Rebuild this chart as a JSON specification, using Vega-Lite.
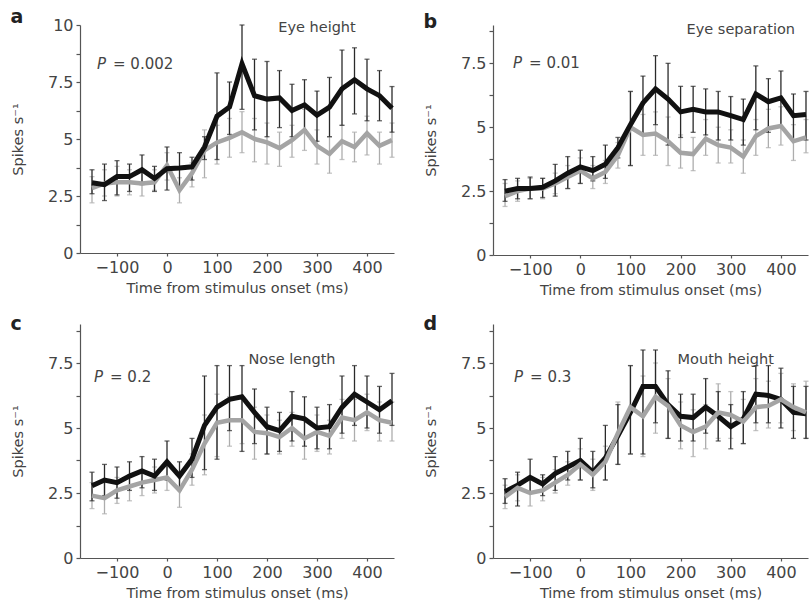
{
"$schema":"https://vega.github.io/schema/vega-lite/v6.json",
"background":"white",
"padding":{"left":10,"top":8,"right":0,"bottom":0},
"config":{"view":{"stroke":null},"font":"DejaVu Sans",
"axis":{"grid":false,"domainColor":"#555","tickColor":"#555","labelColor":"#444","titleColor":"#444","labelFontSize":16,"titleFontSize":14.5,"titleFontWeight":"normal","domainWidth":1.2,"tickWidth":1.2,"labelPadding":3},
"axisX":{"tickSize":3,"titlePadding":6,"values":[-150,-125,-100,-75,-50,-25,0,25,50,75,100,125,150,175,200,225,250,275,300,325,350,375,400,425,450],"labelExpr":"datum.value % 100 === 0 ? datum.label : ''"},
"axisY":{"tickSize":4,"titlePadding":22,"labelExpr":"datum.value % 2.5 === 0 ? format(datum.value, '.2~f') : ''"},
"title":{"anchor":"start","frame":"bounds","fontSize":19,"fontWeight":"bold","color":"#222","offset":0,"dy":14}},
"datasets":{"d":[
{"p":"a","s":"k","t":-150,"m":3.08,"lo":2.6,"hi":3.65},{"p":"a","s":"k","t":-125,"m":3.0,"lo":2.3,"hi":3.9},{"p":"a","s":"k","t":-100,"m":3.35,"lo":2.55,"hi":4.05},{"p":"a","s":"k","t":-75,"m":3.35,"lo":2.7,"hi":3.9},{"p":"a","s":"k","t":-50,"m":3.65,"lo":3.0,"hi":4.3},{"p":"a","s":"k","t":-25,"m":3.27,"lo":2.7,"hi":3.8},{"p":"a","s":"k","t":0,"m":3.7,"lo":2.76,"hi":4.65},{"p":"a","s":"k","t":25,"m":3.73,"lo":2.9,"hi":4.4},{"p":"a","s":"k","t":50,"m":3.78,"lo":3.2,"hi":4.2},{"p":"a","s":"k","t":75,"m":4.65,"lo":4.1,"hi":5.1},{"p":"a","s":"k","t":100,"m":6.0,"lo":4.1,"hi":7.9},{"p":"a","s":"k","t":125,"m":6.4,"lo":5.2,"hi":7.5},{"p":"a","s":"k","t":150,"m":8.3,"lo":6.3,"hi":10.0},{"p":"a","s":"k","t":175,"m":6.9,"lo":5.4,"hi":8.5},{"p":"a","s":"k","t":200,"m":6.75,"lo":5.1,"hi":8.4},{"p":"a","s":"k","t":225,"m":6.8,"lo":5.5,"hi":8.0},{"p":"a","s":"k","t":250,"m":6.25,"lo":5.1,"hi":7.4},{"p":"a","s":"k","t":275,"m":6.5,"lo":5.4,"hi":7.6},{"p":"a","s":"k","t":300,"m":6.05,"lo":4.9,"hi":7.1},{"p":"a","s":"k","t":325,"m":6.4,"lo":5.1,"hi":7.7},{"p":"a","s":"k","t":350,"m":7.2,"lo":5.6,"hi":8.9},{"p":"a","s":"k","t":375,"m":7.6,"lo":6.1,"hi":9.0},{"p":"a","s":"k","t":400,"m":7.2,"lo":5.8,"hi":8.5},{"p":"a","s":"k","t":425,"m":6.9,"lo":5.8,"hi":8.0},{"p":"a","s":"k","t":450,"m":6.35,"lo":5.3,"hi":7.3},
{"p":"a","s":"g","t":-150,"m":2.85,"lo":2.2,"hi":3.35},{"p":"a","s":"g","t":-125,"m":3.05,"lo":2.5,"hi":3.65},{"p":"a","s":"g","t":-100,"m":3.1,"lo":2.5,"hi":3.8},{"p":"a","s":"g","t":-75,"m":3.1,"lo":2.55,"hi":3.65},{"p":"a","s":"g","t":-50,"m":3.05,"lo":2.5,"hi":3.65},{"p":"a","s":"g","t":-25,"m":3.1,"lo":2.75,"hi":3.65},{"p":"a","s":"g","t":0,"m":3.85,"lo":3.2,"hi":4.4},{"p":"a","s":"g","t":25,"m":2.75,"lo":2.2,"hi":3.3},{"p":"a","s":"g","t":50,"m":3.5,"lo":2.9,"hi":3.95},{"p":"a","s":"g","t":75,"m":4.5,"lo":3.3,"hi":5.4},{"p":"a","s":"g","t":100,"m":4.85,"lo":3.9,"hi":5.6},{"p":"a","s":"g","t":125,"m":5.05,"lo":4.2,"hi":5.9},{"p":"a","s":"g","t":150,"m":5.3,"lo":4.4,"hi":6.2},{"p":"a","s":"g","t":175,"m":5.0,"lo":4.0,"hi":5.9},{"p":"a","s":"g","t":200,"m":4.85,"lo":3.9,"hi":5.7},{"p":"a","s":"g","t":225,"m":4.6,"lo":3.8,"hi":5.3},{"p":"a","s":"g","t":250,"m":4.95,"lo":4.2,"hi":5.6},{"p":"a","s":"g","t":275,"m":5.4,"lo":4.5,"hi":6.3},{"p":"a","s":"g","t":300,"m":4.7,"lo":3.9,"hi":5.4},{"p":"a","s":"g","t":325,"m":4.35,"lo":3.5,"hi":5.1},{"p":"a","s":"g","t":350,"m":4.9,"lo":4.1,"hi":5.6},{"p":"a","s":"g","t":375,"m":4.65,"lo":4.0,"hi":5.3},{"p":"a","s":"g","t":400,"m":5.25,"lo":4.3,"hi":6.0},{"p":"a","s":"g","t":425,"m":4.7,"lo":3.9,"hi":5.3},{"p":"a","s":"g","t":450,"m":4.95,"lo":4.2,"hi":5.7},
{"p":"b","s":"k","t":-150,"m":2.5,"lo":2.1,"hi":2.95},{"p":"b","s":"k","t":-125,"m":2.6,"lo":2.2,"hi":3.0},{"p":"b","s":"k","t":-100,"m":2.6,"lo":2.2,"hi":3.05},{"p":"b","s":"k","t":-75,"m":2.65,"lo":2.25,"hi":3.0},{"p":"b","s":"k","t":-50,"m":2.9,"lo":2.3,"hi":3.55},{"p":"b","s":"k","t":-25,"m":3.2,"lo":2.6,"hi":3.85},{"p":"b","s":"k","t":0,"m":3.45,"lo":2.8,"hi":4.1},{"p":"b","s":"k","t":25,"m":3.3,"lo":2.9,"hi":3.85},{"p":"b","s":"k","t":50,"m":3.55,"lo":3.0,"hi":4.3},{"p":"b","s":"k","t":75,"m":4.2,"lo":3.8,"hi":4.6},{"p":"b","s":"k","t":100,"m":5.1,"lo":3.5,"hi":6.4},{"p":"b","s":"k","t":125,"m":5.95,"lo":4.75,"hi":7.0},{"p":"b","s":"k","t":150,"m":6.5,"lo":5.1,"hi":7.8},{"p":"b","s":"k","t":175,"m":6.1,"lo":4.3,"hi":7.5},{"p":"b","s":"k","t":200,"m":5.6,"lo":4.6,"hi":6.6},{"p":"b","s":"k","t":225,"m":5.7,"lo":4.8,"hi":6.6},{"p":"b","s":"k","t":250,"m":5.6,"lo":4.7,"hi":6.5},{"p":"b","s":"k","t":275,"m":5.6,"lo":4.5,"hi":6.4},{"p":"b","s":"k","t":300,"m":5.45,"lo":4.5,"hi":6.2},{"p":"b","s":"k","t":325,"m":5.3,"lo":4.3,"hi":6.1},{"p":"b","s":"k","t":350,"m":6.3,"lo":4.9,"hi":7.4},{"p":"b","s":"k","t":375,"m":6.0,"lo":4.8,"hi":6.9},{"p":"b","s":"k","t":400,"m":6.15,"lo":5.0,"hi":7.2},{"p":"b","s":"k","t":425,"m":5.45,"lo":4.5,"hi":6.3},{"p":"b","s":"k","t":450,"m":5.5,"lo":4.5,"hi":6.4},
{"p":"b","s":"g","t":-150,"m":2.3,"lo":1.9,"hi":2.8},{"p":"b","s":"g","t":-125,"m":2.5,"lo":2.1,"hi":2.9},{"p":"b","s":"g","t":-100,"m":2.6,"lo":2.2,"hi":3.0},{"p":"b","s":"g","t":-75,"m":2.6,"lo":2.2,"hi":3.0},{"p":"b","s":"g","t":-50,"m":2.8,"lo":2.4,"hi":3.2},{"p":"b","s":"g","t":-25,"m":3.05,"lo":2.6,"hi":3.5},{"p":"b","s":"g","t":0,"m":3.3,"lo":2.8,"hi":3.8},{"p":"b","s":"g","t":25,"m":3.0,"lo":2.6,"hi":3.5},{"p":"b","s":"g","t":50,"m":3.25,"lo":2.8,"hi":3.7},{"p":"b","s":"g","t":75,"m":3.9,"lo":3.4,"hi":4.4},{"p":"b","s":"g","t":100,"m":5.0,"lo":3.5,"hi":6.4},{"p":"b","s":"g","t":125,"m":4.7,"lo":3.9,"hi":5.5},{"p":"b","s":"g","t":150,"m":4.75,"lo":3.9,"hi":5.6},{"p":"b","s":"g","t":175,"m":4.45,"lo":3.5,"hi":5.4},{"p":"b","s":"g","t":200,"m":4.0,"lo":3.4,"hi":4.7},{"p":"b","s":"g","t":225,"m":3.95,"lo":3.3,"hi":4.6},{"p":"b","s":"g","t":250,"m":4.55,"lo":3.9,"hi":5.3},{"p":"b","s":"g","t":275,"m":4.3,"lo":3.6,"hi":5.0},{"p":"b","s":"g","t":300,"m":4.2,"lo":3.6,"hi":4.9},{"p":"b","s":"g","t":325,"m":3.85,"lo":3.2,"hi":4.5},{"p":"b","s":"g","t":350,"m":4.65,"lo":3.9,"hi":5.3},{"p":"b","s":"g","t":375,"m":4.95,"lo":4.2,"hi":5.7},{"p":"b","s":"g","t":400,"m":5.05,"lo":4.3,"hi":5.8},{"p":"b","s":"g","t":425,"m":4.45,"lo":3.7,"hi":5.1},{"p":"b","s":"g","t":450,"m":4.6,"lo":4.0,"hi":5.3},
{"p":"c","s":"k","t":-150,"m":2.78,"lo":2.2,"hi":3.3},{"p":"c","s":"k","t":-125,"m":3.0,"lo":2.4,"hi":3.6},{"p":"c","s":"k","t":-100,"m":2.9,"lo":2.3,"hi":3.5},{"p":"c","s":"k","t":-75,"m":3.15,"lo":2.6,"hi":3.7},{"p":"c","s":"k","t":-50,"m":3.35,"lo":2.7,"hi":3.9},{"p":"c","s":"k","t":-25,"m":3.15,"lo":2.6,"hi":3.8},{"p":"c","s":"k","t":0,"m":3.7,"lo":3.0,"hi":4.5},{"p":"c","s":"k","t":25,"m":3.15,"lo":2.6,"hi":3.7},{"p":"c","s":"k","t":50,"m":3.8,"lo":3.1,"hi":4.6},{"p":"c","s":"k","t":75,"m":5.1,"lo":3.4,"hi":7.0},{"p":"c","s":"k","t":100,"m":5.8,"lo":3.8,"hi":7.4},{"p":"c","s":"k","t":125,"m":6.1,"lo":4.9,"hi":7.4},{"p":"c","s":"k","t":150,"m":6.2,"lo":4.1,"hi":7.4},{"p":"c","s":"k","t":175,"m":5.6,"lo":4.4,"hi":6.5},{"p":"c","s":"k","t":200,"m":5.05,"lo":4.0,"hi":5.8},{"p":"c","s":"k","t":225,"m":4.9,"lo":4.1,"hi":5.6},{"p":"c","s":"k","t":250,"m":5.45,"lo":4.5,"hi":6.4},{"p":"c","s":"k","t":275,"m":5.35,"lo":4.3,"hi":6.2},{"p":"c","s":"k","t":300,"m":5.0,"lo":4.2,"hi":5.8},{"p":"c","s":"k","t":325,"m":5.05,"lo":4.2,"hi":5.9},{"p":"c","s":"k","t":350,"m":5.8,"lo":4.8,"hi":7.0},{"p":"c","s":"k","t":375,"m":6.3,"lo":5.1,"hi":7.4},{"p":"c","s":"k","t":400,"m":6.0,"lo":5.0,"hi":7.0},{"p":"c","s":"k","t":425,"m":5.7,"lo":4.8,"hi":6.6},{"p":"c","s":"k","t":450,"m":6.05,"lo":5.1,"hi":7.1},
{"p":"c","s":"g","t":-150,"m":2.4,"lo":1.9,"hi":2.9},{"p":"c","s":"g","t":-125,"m":2.3,"lo":1.7,"hi":2.9},{"p":"c","s":"g","t":-100,"m":2.6,"lo":2.1,"hi":3.1},{"p":"c","s":"g","t":-75,"m":2.75,"lo":2.2,"hi":3.2},{"p":"c","s":"g","t":-50,"m":2.9,"lo":2.4,"hi":3.4},{"p":"c","s":"g","t":-25,"m":3.0,"lo":2.5,"hi":3.5},{"p":"c","s":"g","t":0,"m":3.1,"lo":2.6,"hi":3.6},{"p":"c","s":"g","t":25,"m":2.6,"lo":1.95,"hi":3.2},{"p":"c","s":"g","t":50,"m":3.4,"lo":2.8,"hi":4.0},{"p":"c","s":"g","t":75,"m":4.4,"lo":3.2,"hi":5.5},{"p":"c","s":"g","t":100,"m":5.2,"lo":3.9,"hi":6.3},{"p":"c","s":"g","t":125,"m":5.3,"lo":4.3,"hi":6.2},{"p":"c","s":"g","t":150,"m":5.3,"lo":4.4,"hi":6.2},{"p":"c","s":"g","t":175,"m":4.85,"lo":3.8,"hi":5.8},{"p":"c","s":"g","t":200,"m":4.8,"lo":4.0,"hi":5.5},{"p":"c","s":"g","t":225,"m":4.65,"lo":4.0,"hi":5.3},{"p":"c","s":"g","t":250,"m":5.0,"lo":4.3,"hi":5.6},{"p":"c","s":"g","t":275,"m":4.6,"lo":3.8,"hi":5.3},{"p":"c","s":"g","t":300,"m":4.85,"lo":4.1,"hi":5.5},{"p":"c","s":"g","t":325,"m":4.7,"lo":4.0,"hi":5.3},{"p":"c","s":"g","t":350,"m":5.4,"lo":4.6,"hi":6.1},{"p":"c","s":"g","t":375,"m":5.3,"lo":4.5,"hi":6.1},{"p":"c","s":"g","t":400,"m":5.6,"lo":4.9,"hi":6.3},{"p":"c","s":"g","t":425,"m":5.3,"lo":4.5,"hi":6.0},{"p":"c","s":"g","t":450,"m":5.2,"lo":4.5,"hi":6.0},
{"p":"d","s":"k","t":-150,"m":2.55,"lo":2.1,"hi":3.05},{"p":"d","s":"k","t":-125,"m":2.8,"lo":2.0,"hi":3.3},{"p":"d","s":"k","t":-100,"m":3.1,"lo":2.5,"hi":3.8},{"p":"d","s":"k","t":-75,"m":2.85,"lo":2.4,"hi":3.2},{"p":"d","s":"k","t":-50,"m":3.25,"lo":2.6,"hi":3.9},{"p":"d","s":"k","t":-25,"m":3.5,"lo":3.0,"hi":4.1},{"p":"d","s":"k","t":0,"m":3.75,"lo":3.0,"hi":4.6},{"p":"d","s":"k","t":25,"m":3.3,"lo":2.7,"hi":4.1},{"p":"d","s":"k","t":50,"m":3.85,"lo":3.0,"hi":5.1},{"p":"d","s":"k","t":75,"m":4.7,"lo":3.6,"hi":5.9},{"p":"d","s":"k","t":100,"m":5.6,"lo":4.0,"hi":7.4},{"p":"d","s":"k","t":125,"m":6.6,"lo":4.0,"hi":8.0},{"p":"d","s":"k","t":150,"m":6.6,"lo":5.2,"hi":8.0},{"p":"d","s":"k","t":175,"m":5.9,"lo":4.6,"hi":7.2},{"p":"d","s":"k","t":200,"m":5.45,"lo":4.5,"hi":6.3},{"p":"d","s":"k","t":225,"m":5.4,"lo":4.5,"hi":6.3},{"p":"d","s":"k","t":250,"m":5.8,"lo":4.8,"hi":6.9},{"p":"d","s":"k","t":275,"m":5.45,"lo":4.5,"hi":6.4},{"p":"d","s":"k","t":300,"m":5.05,"lo":4.2,"hi":5.9},{"p":"d","s":"k","t":325,"m":5.35,"lo":4.4,"hi":6.4},{"p":"d","s":"k","t":350,"m":6.3,"lo":5.2,"hi":7.4},{"p":"d","s":"k","t":375,"m":6.25,"lo":5.2,"hi":7.4},{"p":"d","s":"k","t":400,"m":6.1,"lo":5.0,"hi":7.3},{"p":"d","s":"k","t":425,"m":5.6,"lo":4.6,"hi":6.6},{"p":"d","s":"k","t":450,"m":5.55,"lo":4.6,"hi":6.6},
{"p":"d","s":"g","t":-150,"m":2.35,"lo":1.9,"hi":2.8},{"p":"d","s":"g","t":-125,"m":2.7,"lo":2.2,"hi":3.2},{"p":"d","s":"g","t":-100,"m":2.5,"lo":2.0,"hi":3.0},{"p":"d","s":"g","t":-75,"m":2.6,"lo":2.2,"hi":3.1},{"p":"d","s":"g","t":-50,"m":2.9,"lo":2.5,"hi":3.4},{"p":"d","s":"g","t":-25,"m":3.2,"lo":2.8,"hi":3.7},{"p":"d","s":"g","t":0,"m":3.6,"lo":3.0,"hi":4.2},{"p":"d","s":"g","t":25,"m":3.2,"lo":2.6,"hi":3.8},{"p":"d","s":"g","t":50,"m":3.7,"lo":3.0,"hi":4.3},{"p":"d","s":"g","t":75,"m":4.8,"lo":3.6,"hi":6.0},{"p":"d","s":"g","t":100,"m":5.8,"lo":4.0,"hi":7.4},{"p":"d","s":"g","t":125,"m":5.45,"lo":3.9,"hi":7.0},{"p":"d","s":"g","t":150,"m":6.2,"lo":4.8,"hi":7.5},{"p":"d","s":"g","t":175,"m":5.85,"lo":4.6,"hi":6.9},{"p":"d","s":"g","t":200,"m":5.1,"lo":4.2,"hi":6.0},{"p":"d","s":"g","t":225,"m":4.85,"lo":3.9,"hi":5.7},{"p":"d","s":"g","t":250,"m":5.05,"lo":4.2,"hi":5.9},{"p":"d","s":"g","t":275,"m":5.6,"lo":4.6,"hi":6.7},{"p":"d","s":"g","t":300,"m":5.5,"lo":4.6,"hi":6.4},{"p":"d","s":"g","t":325,"m":5.25,"lo":4.4,"hi":6.1},{"p":"d","s":"g","t":350,"m":5.8,"lo":4.9,"hi":6.9},{"p":"d","s":"g","t":375,"m":5.85,"lo":5.0,"hi":6.8},{"p":"d","s":"g","t":400,"m":6.1,"lo":5.2,"hi":7.1},{"p":"d","s":"g","t":425,"m":5.8,"lo":4.9,"hi":6.7},{"p":"d","s":"g","t":450,"m":5.6,"lo":4.6,"hi":6.8}
]},
"spacing":18,
"vconcat":[
{"hconcat":[
{"width":314,"height":228,"title":{"text":"a"},
 "data":{"name":"d"},"transform":[{"filter":"datum.p=='a'"}],
 "encoding":{"x":{"field":"t","type":"quantitative","scale":{"domain":[-174,454],"nice":false},"title":"Time from stimulus onset (ms)"},
  "y":{"field":"m","type":"quantitative","scale":{"domain":[0,10],"nice":false},"axis":{"values":[0,1.25,2.5,3.75,5,6.25,7.5,8.75,10]},"title":"Spikes s⁻¹"}},
 "layer":[
  {"transform":[{"filter":"datum.s=='g'"}],"mark":{"type":"errorbar","color":"#adadad","thickness":1.3,"ticks":{"size":5}},"encoding":{"y":{"field":"lo","type":"quantitative","title":"Spikes s⁻¹"},"y2":{"field":"hi"}}},
  {"transform":[{"filter":"datum.s=='k'"}],"mark":{"type":"errorbar","color":"#2a2a2a","thickness":1.3,"ticks":{"size":5}},"encoding":{"y":{"field":"lo","type":"quantitative","title":"Spikes s⁻¹"},"y2":{"field":"hi"}}},
  {"transform":[{"filter":"datum.s=='g'"}],"mark":{"type":"line","color":"#a4a4a4","strokeWidth":4.5},"encoding":{}},
  {"transform":[{"filter":"datum.s=='k'"}],"mark":{"type":"line","color":"#111","strokeWidth":5},"encoding":{}},
  {"data":{"values":[{"p":"a","t":-140,"m":8.3,"txt":"= 0.002"}]},"mark":{"type":"text","text":"P","fontStyle":"italic","align":"left","baseline":"middle","fontSize":15,"color":"#444"},"encoding":{}},
  {"data":{"values":[{"p":"a","t":-140,"m":8.3,"txt":"= 0.002"}]},"mark":{"type":"text","align":"left","baseline":"middle","fontSize":15,"color":"#444","dx":16},"encoding":{"text":{"field":"txt"}}},
  {"data":{"values":[{"p":"a","t":300,"m":9.85,"txt":"Eye height"}]},"mark":{"type":"text","align":"center","baseline":"middle","fontSize":14.5,"color":"#444"},"encoding":{"text":{"field":"txt"}}}
 ]},
{"width":315,"height":230,"title":{"text":"b"},
 "data":{"name":"d"},"transform":[{"filter":"datum.p=='b'"}],
 "encoding":{"x":{"field":"t","type":"quantitative","scale":{"domain":[-174,454],"nice":false},"title":"Time from stimulus onset (ms)"},
  "y":{"field":"m","type":"quantitative","scale":{"domain":[0,9],"nice":false},"axis":{"values":[0,1.25,2.5,3.75,5,6.25,7.5,8.75]},"title":"Spikes s⁻¹"}},
 "layer":[
  {"transform":[{"filter":"datum.s=='g'"}],"mark":{"type":"errorbar","color":"#adadad","thickness":1.3,"ticks":{"size":5}},"encoding":{"y":{"field":"lo","type":"quantitative","title":"Spikes s⁻¹"},"y2":{"field":"hi"}}},
  {"transform":[{"filter":"datum.s=='k'"}],"mark":{"type":"errorbar","color":"#2a2a2a","thickness":1.3,"ticks":{"size":5}},"encoding":{"y":{"field":"lo","type":"quantitative","title":"Spikes s⁻¹"},"y2":{"field":"hi"}}},
  {"transform":[{"filter":"datum.s=='g'"}],"mark":{"type":"line","color":"#a4a4a4","strokeWidth":4.5},"encoding":{}},
  {"transform":[{"filter":"datum.s=='k'"}],"mark":{"type":"line","color":"#111","strokeWidth":5},"encoding":{}},
  {"data":{"values":[{"p":"b","t":-134,"m":7.5,"txt":"= 0.01"}]},"mark":{"type":"text","text":"P","fontStyle":"italic","align":"left","baseline":"middle","fontSize":15,"color":"#444"},"encoding":{}},
  {"data":{"values":[{"p":"b","t":-134,"m":7.5,"txt":"= 0.01"}]},"mark":{"type":"text","align":"left","baseline":"middle","fontSize":15,"color":"#444","dx":16},"encoding":{"text":{"field":"txt"}}},
  {"data":{"values":[{"p":"b","t":320,"m":8.8,"txt":"Eye separation"}]},"mark":{"type":"text","align":"center","baseline":"middle","fontSize":14.5,"color":"#444"},"encoding":{"text":{"field":"txt"}}}
 ]}
],"spacing":21},
{"hconcat":[
{"width":314,"height":234,"title":{"text":"c"},
 "data":{"name":"d"},"transform":[{"filter":"datum.p=='c'"}],
 "encoding":{"x":{"field":"t","type":"quantitative","scale":{"domain":[-174,454],"nice":false},"title":"Time from stimulus onset (ms)"},
  "y":{"field":"m","type":"quantitative","scale":{"domain":[0,9],"nice":false},"axis":{"values":[0,1.25,2.5,3.75,5,6.25,7.5,8.75]},"title":"Spikes s⁻¹"}},
 "layer":[
  {"transform":[{"filter":"datum.s=='g'"}],"mark":{"type":"errorbar","color":"#adadad","thickness":1.3,"ticks":{"size":5}},"encoding":{"y":{"field":"lo","type":"quantitative","title":"Spikes s⁻¹"},"y2":{"field":"hi"}}},
  {"transform":[{"filter":"datum.s=='k'"}],"mark":{"type":"errorbar","color":"#2a2a2a","thickness":1.3,"ticks":{"size":5}},"encoding":{"y":{"field":"lo","type":"quantitative","title":"Spikes s⁻¹"},"y2":{"field":"hi"}}},
  {"transform":[{"filter":"datum.s=='g'"}],"mark":{"type":"line","color":"#a4a4a4","strokeWidth":4.5},"encoding":{}},
  {"transform":[{"filter":"datum.s=='k'"}],"mark":{"type":"line","color":"#111","strokeWidth":5},"encoding":{}},
  {"data":{"values":[{"p":"c","t":-146,"m":6.95,"txt":"= 0.2"}]},"mark":{"type":"text","text":"P","fontStyle":"italic","align":"left","baseline":"middle","fontSize":15,"color":"#444"},"encoding":{}},
  {"data":{"values":[{"p":"c","t":-146,"m":6.95,"txt":"= 0.2"}]},"mark":{"type":"text","align":"left","baseline":"middle","fontSize":15,"color":"#444","dx":16},"encoding":{"text":{"field":"txt"}}},
  {"data":{"values":[{"p":"c","t":250,"m":7.6,"txt":"Nose length"}]},"mark":{"type":"text","align":"center","baseline":"middle","fontSize":14.5,"color":"#444"},"encoding":{"text":{"field":"txt"}}}
 ]},
{"width":315,"height":234,"title":{"text":"d"},
 "data":{"name":"d"},"transform":[{"filter":"datum.p=='d'"}],
 "encoding":{"x":{"field":"t","type":"quantitative","scale":{"domain":[-174,454],"nice":false},"title":"Time from stimulus onset (ms)"},
  "y":{"field":"m","type":"quantitative","scale":{"domain":[0,9],"nice":false},"axis":{"values":[0,1.25,2.5,3.75,5,6.25,7.5,8.75]},"title":"Spikes s⁻¹"}},
 "layer":[
  {"transform":[{"filter":"datum.s=='g'"}],"mark":{"type":"errorbar","color":"#adadad","thickness":1.3,"ticks":{"size":5}},"encoding":{"y":{"field":"lo","type":"quantitative","title":"Spikes s⁻¹"},"y2":{"field":"hi"}}},
  {"transform":[{"filter":"datum.s=='k'"}],"mark":{"type":"errorbar","color":"#2a2a2a","thickness":1.3,"ticks":{"size":5}},"encoding":{"y":{"field":"lo","type":"quantitative","title":"Spikes s⁻¹"},"y2":{"field":"hi"}}},
  {"transform":[{"filter":"datum.s=='k'"}],"mark":{"type":"line","color":"#111","strokeWidth":5},"encoding":{}},
  {"transform":[{"filter":"datum.s=='g'"}],"mark":{"type":"line","color":"#a4a4a4","strokeWidth":4.5},"encoding":{}},
  {"data":{"values":[{"p":"d","t":-132,"m":6.95,"txt":"= 0.3"}]},"mark":{"type":"text","text":"P","fontStyle":"italic","align":"left","baseline":"middle","fontSize":15,"color":"#444"},"encoding":{}},
  {"data":{"values":[{"p":"d","t":-132,"m":6.95,"txt":"= 0.3"}]},"mark":{"type":"text","align":"left","baseline":"middle","fontSize":15,"color":"#444","dx":16},"encoding":{"text":{"field":"txt"}}},
  {"data":{"values":[{"p":"d","t":290,"m":7.6,"txt":"Mouth height"}]},"mark":{"type":"text","align":"center","baseline":"middle","fontSize":14.5,"color":"#444"},"encoding":{"text":{"field":"txt"}}}
 ]}
],"spacing":21}
]
}
